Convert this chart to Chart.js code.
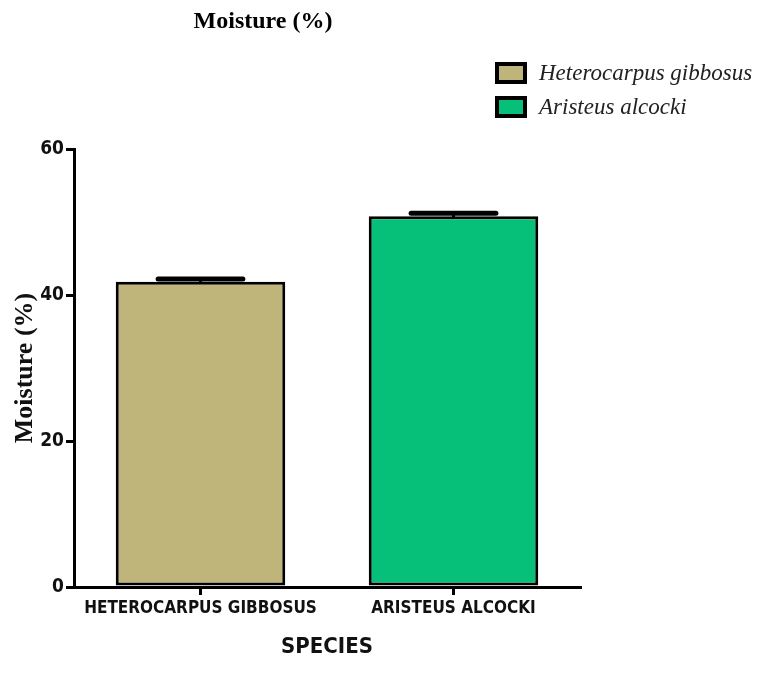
<!DOCTYPE html>
<html>
<head>
<meta charset="utf-8">
<script src="https://cdn.jsdelivr.net/npm/chart.js@4/dist/chart.umd.min.js"></script>
<style>
  body { margin: 0; background: #fff; }
  #wrap { width: 758px; height: 689px; }
</style>
</head>
<body>
<div id="wrap"><canvas id="moistChart"></canvas></div>
<script>
    const species = ["HETEROCARPUS GIBBOSUS", "ARISTEUS ALCOCKI"];
    const legendNames = ["Heterocarpus gibbosus", "Aristeus alcocki"];
    const moistureMean = [41.8, 50.8];
    const moistureSd = [0.4, 0.4];
    const barColors = ['#bfb47a', '#06bf78'];
    const yTicks = [0, 20, 40, 60];

    const serif = "'Liberation Serif', 'Times New Roman', serif";
    const sansNarrow = "'DejaVu Sans Condensed', 'Liberation Sans', sans-serif";

    // error caps above each bar
    const errorBars = {
        id: 'errorBars',
        afterDatasetsDraw(chart) {
            const ctx = chart.ctx;
            const meta = chart.getDatasetMeta(0);
            const y = chart.scales.y;
            ctx.save();
            ctx.strokeStyle = '#000';
            meta.data.forEach((bar, i) => {
                const top = y.getPixelForValue(moistureMean[i] + moistureSd[i]);
                const base = y.getPixelForValue(moistureMean[i]);
                const half = bar.width / 4;
                ctx.lineWidth = 3;
                ctx.beginPath();
                ctx.moveTo(bar.x, base);
                ctx.lineTo(bar.x, top);
                ctx.stroke();
                ctx.lineWidth = 5;
                ctx.lineCap = 'round';
                ctx.beginPath();
                ctx.moveTo(bar.x - half, top);
                ctx.lineTo(bar.x + half, top);
                ctx.stroke();
            });
            ctx.restore();
        }
    };

    // title and legend placed like the original figure
    const decorations = {
        id: 'decorations',
        afterDraw(chart) {
            const ctx = chart.ctx;
            ctx.save();
            ctx.fillStyle = '#000';
            ctx.font = "bold 24px " + serif;
            ctx.textAlign = 'center';
            ctx.textBaseline = 'middle';
            ctx.fillText('Moisture (%)', 263, 22);

            ctx.font = "italic 23px " + serif;
            ctx.textAlign = 'left';
            legendNames.forEach((name, i) => {
                const yy = 73 + i * 34;
                ctx.fillStyle = barColors[i];
                ctx.fillRect(497, yy - 9, 28, 18);
                ctx.strokeStyle = '#000';
                ctx.lineWidth = 4;
                ctx.strokeRect(497, yy - 9, 28, 18);
                ctx.fillStyle = '#222';
                ctx.fillText(name, 539, yy + 1);
            });
            ctx.restore();
        }
    };

    new Chart(document.getElementById('moistChart'), {
        type: 'bar',
        data: {
            labels: species,
            datasets: [{
                label: 'Moisture (%)',
                data: moistureMean,
                backgroundColor: barColors,
                borderColor: '#000',
                borderWidth: 3,
                borderSkipped: false,
                categoryPercentage: 1,
                barPercentage: 0.67
            }]
        },
        options: {
            responsive: true,
            maintainAspectRatio: false,
            animation: false,
            layout: { padding: { top: 149, right: 178, left: 0, bottom: 0 } },
            plugins: {
                legend: { display: false },
                tooltip: { enabled: false }
            },
            scales: {
                x: {
                    afterFit(scale) { scale.height = 102; },
                    grid: { offset: false, drawOnChartArea: false, color: '#000', lineWidth: 3, tickLength: 8 },
                    border: { color: '#000', width: 3 },
                    ticks: { color: '#111', padding: 3, font: { family: sansNarrow, size: 17, weight: 'bold' } },
                    title: {
                        display: true,
                        text: 'SPECIES',
                        color: '#111',
                        padding: { top: 29, bottom: 29 },
                        font: { family: sansNarrow, size: 22, weight: 'bold' }
                    }
                },
                y: {
                    min: 0,
                    max: 60,
                    afterFit(scale) { scale.width = 74; },
                    afterBuildTicks(scale) { scale.ticks = yTicks.map(v => ({ value: v })); },
                    grid: { drawOnChartArea: false, color: '#000', lineWidth: 3, tickLength: 8 },
                    border: { color: '#000', width: 3 },
                    ticks: { color: '#111', padding: 2, font: { family: sansNarrow, size: 19, weight: 'bold' } },
                    title: {
                        display: true,
                        text: 'Moisture (%)',
                        color: '#111',
                        padding: { top: 10, bottom: 10 },
                        font: { family: serif, size: 26, weight: 'bold' }
                    }
                }
            }
        },
        plugins: [errorBars, decorations]
    });
</script>
</body>
</html>
